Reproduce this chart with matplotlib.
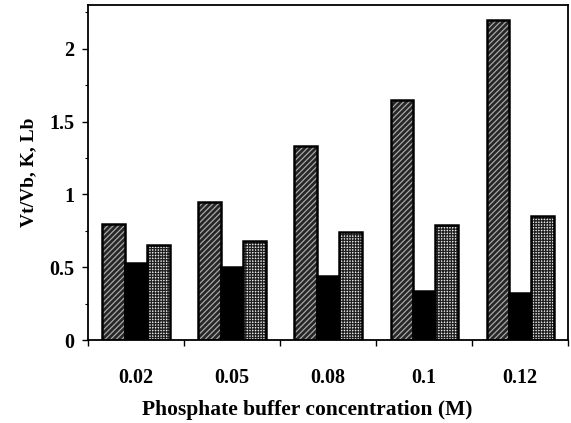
import numpy as np
import matplotlib
matplotlib.use("Agg")
from matplotlib import pyplot as plt

# Data
concentrations = ['0.02', '0.05', '0.08', '0.1', '0.12']
vt_vb = [0.80, 0.95, 1.33, 1.65, 2.20]
k_vals = [0.53, 0.50, 0.44, 0.34, 0.32]
lb_vals = [0.65, 0.68, 0.74, 0.79, 0.85]

plt.rcParams['font.family'] = ['Liberation Serif', 'DejaVu Serif']
plt.rcParams['font.weight'] = 'bold'
plt.rcParams['hatch.linewidth'] = 0.9

fig = plt.figure(figsize=(5.71, 4.23), dpi=100)
ax = fig.add_axes([0.154, 0.196, 0.841, 0.792])

x = np.arange(len(concentrations))
w = 0.233

# Vt/Vb: dark bars with light diagonal hatching
ax.bar(x - w, vt_vb, w, color='#262626', edgecolor='#a8a8a8', hatch='//////', linewidth=0)
ax.bar(x - w, vt_vb, w, fill=False, edgecolor='black', linewidth=1.8)
# K: solid black
ax.bar(x, k_vals, w, color='black', edgecolor='black', linewidth=1.8)
# Lb: fine dark grid
ax.bar(x + w, lb_vals, w, color='#e8e8e8', edgecolor='#202020', hatch='++++++', linewidth=0)
ax.bar(x + w, lb_vals, w, fill=False, edgecolor='black', linewidth=1.8)

ax.set_xlim(-0.5, len(concentrations) - 0.5)
ax.set_ylim(0, 2.3)

ax.set_xticks(np.arange(len(concentrations) + 1) - 0.5)
ax.set_xticklabels([])
ax.set_xticks(x, minor=True)
ax.set_xticklabels(concentrations, minor=True, fontsize=14.5, fontweight='bold')
ax.tick_params(axis='x', which='major', direction='out', length=4, width=1)
ax.tick_params(axis='x', which='minor', length=0, pad=20)

ax.set_yticks([0, 0.5, 1, 1.5, 2])
ax.set_yticklabels(['0', '0.5', '1', '1.5', '2'], fontsize=14.5, fontweight='bold')
ax.set_yticks(np.arange(0, 2.3, 0.25), minor=True)
ax.tick_params(axis='y', which='major', direction='out', length=4, width=1, pad=6)
ax.tick_params(axis='y', which='minor', direction='out', length=2, width=0.8)

for s in ax.spines.values():
    s.set_linewidth(1.3)

ax.set_xlabel('Phosphate buffer concentration (M)', fontsize=15.5, fontweight='bold')
ax.xaxis.set_label_coords(0.456, -0.178)
ax.set_ylabel('Vt/Vb, K, Lb', fontsize=14, fontweight='bold')
ax.yaxis.set_label_coords(-0.106, 0.5)

fig.savefig('out.png', dpi=100)
